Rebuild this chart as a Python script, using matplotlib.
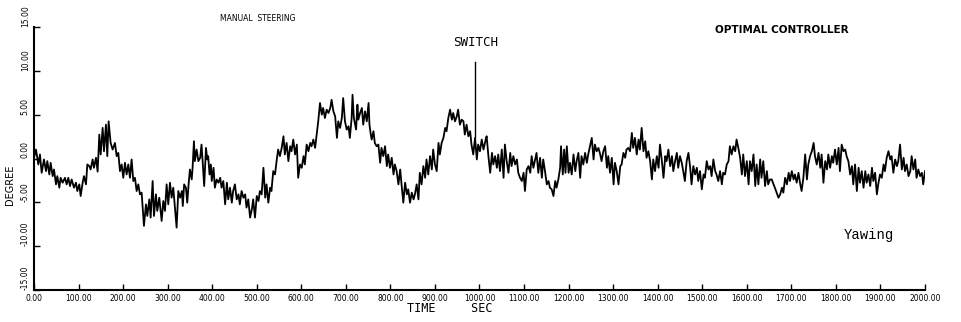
import numpy as np
import matplotlib
matplotlib.use("Agg")
import matplotlib.pyplot as plt

# yaw angle trace, in pieces (time [s], angle [deg])
t_manual_a = [0, 4.5, 9.7, 13.4, 17.2, 22.4, 26.9, 29.9, 34.4, 37.4, 41.9, 44.9, 49.3, 52.3, 56.8,
              59.8, 64.3, 69.5, 73.3, 77, 80.8, 84.5, 89.7, 94.2, 97.2, 101.7, 104.7, 109.2, 112.2,
              116.7, 119.7, 124.1, 127.1, 131.6, 134.6, 139.1, 142.8, 146.6, 149.6, 154.1, 157.1,
              161.5, 164.5, 167.5, 172, 176.5, 181.7, 185.5, 189.2, 193, 196.7, 200.4, 204.2, 207.9,
              211.7, 215.4, 219.1, 222.9, 226.6, 230.4, 234.1, 237.8, 241.6, 246.8, 251.3, 254.3,
              258.8, 261.8, 266.3, 269.3, 273.7, 276.7, 281.2, 286.5, 290.2, 294, 297.7, 301.4,
              305.2, 308.9, 312.6, 320.1, 323.9]
y_manual_a = [0.08, 1.02, -0.68, 0.46, -1.63, -0.11, -1.44, -0.3, -1.82, -0.49, -2.01, -1.25, -2.95,
              -2.01, -3.33, -2.2, -2.76, -2.2, -2.95, -2.2, -3.14, -2.39, -3.33, -2.76, -3.71, -2.95,
              -4.28, -2.76, -2.01, -2.95, -0.68, -0.87, -1.25, -0.11, -1.06, 0.08, -1.5, 2.73, 0.46,
              3.49, 0.83, 3.86, 0.27, 4.24, 1.78, 1.02, 1.78, 0.27, 0.64, -1.44, -0.68, -2.2, -0.49,
              -1.82, -0.68, -2.2, -0.11, -2.57, -2.2, -3.71, -2.95, -4.09, -3.9, -7.69, -5.23, -6.55,
              -4.66, -6.74, -2.57, -6.55, -4.09, -5.98, -4.47, -7.12, -4.85, -5.98, -2.95, -5.23,
              -2.76, -4.47, -3.33, -7.88, -3.71]

t_manual_b = [328, 332, 334, 337, 341, 344, 347, 350, 354, 356, 359, 361, 365, 369, 373, 376, 379,
              382, 386, 389, 391, 394, 397, 399, 403, 406, 410, 414, 418, 421, 425, 429, 433, 436,
              440, 444, 447, 451, 455, 459, 462, 466, 470, 474, 477, 481, 485, 489, 492, 496, 500,
              504, 507, 511, 515, 519, 522, 526, 530, 533, 537, 541, 545, 548, 552, 556, 560, 563,
              567, 571, 575, 578, 582, 586, 590, 593, 597, 601, 605, 608, 612, 616, 620, 623, 627,
              631, 635, 638, 642, 646, 649, 653, 657, 661]
y_manual_b = [-4.47, -3.71, -5.42, -2.95, -3.33, -5.04, -2.95, -1.25, -2.39, -1.06, 1.97, -0.3, 1.02,
              -0.3, 0.08, 1.59, -0.68, -3.14, 1.21, -0.11, 0.27, -1.82, -0.68, -2.57, -1.06, -3.33,
              -2.39, -2.76, -2.2, -3.33, -2.57, -5.23, -2.76, -4.66, -3.33, -5.04, -3.71, -2.95,
              -4.66, -4.09, -5.23, -3.71, -4.47, -4.09, -5.6, -4.66, -6.74, -5.79, -4.66, -6.74,
              -4.28, -4.85, -3.71, -4.09, -1.06, -4.47, -2.95, -5.04, -3.33, -3.71, -1.44, -1.82,
              -0.11, 1.02, 0.27, 1.21, 2.54, 0.46, 1.78, -0.3, 1.4, 0.83, 2.16, 0.46, 1.59, -2.2,
              -0.68, -1.06, 0.27, -0.68, 1.59, 0.83, 1.78, 1.4, 2.16, 1.21, 2.92, 4.24, 6.33, 5.0,
              5.76, 4.62, 5.57, 5.19]

t_manual_c = [665, 668, 672, 676, 680, 683, 687, 691, 694, 698, 702, 706, 709, 713, 715, 718, 723,
              726, 728, 732, 736, 739, 743, 747, 751, 753, 756, 758, 762, 765, 769, 773, 777, 780,
              784, 788, 792, 795, 799, 803, 807, 810, 814, 818, 822, 825, 829, 833, 837, 840, 844,
              848, 852, 855, 859, 863, 866, 870, 874, 878, 881, 885, 889, 893, 896, 900, 904, 908,
              911, 915, 919, 923, 926, 930, 934, 938, 941, 945, 949, 952, 956, 960, 964, 967, 971,
              975, 979, 982, 986, 990, 994, 997]
y_manual_c = [5.76, 6.7, 5.38, 4.81, 2.35, 4.24, 3.49, 4.62, 6.89, 4.24, 3.3, 3.68, 2.35, 4.62, 7.27,
              4.62, 3.3, 6.14, 4.43, 5.19, 5.76, 3.86, 5.38, 4.24, 6.33, 3.86, 2.73, 2.16, 3.11, 1.78,
              1.4, 1.59, -0.49, 1.21, 0.27, 1.4, -0.87, 0.46, -1.06, 0.08, -1.82, -0.68, -1.44,
              -2.95, -1.25, -2.95, -5.04, -2.76, -4.09, -3.52, -5.04, -3.9, -4.66, -4.09, -2.95,
              -4.66, -1.63, -2.95, -0.87, -2.2, -0.11, -1.82, 0.27, -1.25, 1.02, -0.68, -1.44, 1.78,
              0.46, 1.78, 2.35, 3.49, 3.11, 4.62, 5.57, 4.43, 5.19, 4.24, 4.81, 5.57, 3.86, 4.43,
              4.24, 2.73, 3.86, 2.54, 3.11, 1.59, 0.46, 2.35, -0.11, 1.59]

t_opt_a = [1001, 1005, 1009, 1013, 1016, 1020, 1024, 1028, 1031, 1035, 1039, 1042, 1046, 1050, 1054,
           1057, 1061, 1065, 1069, 1072, 1076, 1080, 1084, 1087, 1091, 1095, 1099, 1102, 1106, 1110,
           1114, 1117, 1121, 1125, 1128, 1132, 1136, 1140, 1143, 1147, 1151, 1155, 1158, 1162, 1166,
           1170, 1173, 1177, 1181, 1183, 1187, 1190, 1193, 1196, 1200, 1203, 1207, 1211, 1215, 1218,
           1222, 1226, 1229, 1233, 1237, 1241, 1244, 1248, 1252, 1256, 1259, 1263, 1267, 1271, 1274,
           1278, 1282, 1286, 1289, 1293, 1297, 1301, 1304, 1308, 1312, 1316, 1319, 1323, 1327, 1330,
           1334]
y_opt_a = [0.83, 2.16, 1.02, 1.97, 2.54, 0.27, -1.63, 0.64, -0.68, 0.27, -1.06, 0.46, -1.44, 1.02,
           -2.2, 1.59, -0.3, -1.63, 0.64, -0.87, 0.27, -0.68, -0.11, -1.63, -2.2, -2.57, -1.63, -3.71,
           -1.25, -0.87, -1.63, 0.27, -1.06, -0.11, 0.64, -1.63, 0.08, -2.2, -0.11, -1.44, -2.95,
           -2.57, -3.33, -3.52, -4.28, -2.57, -3.33, -2.39, -1.06, 1.4, -1.82, 1.02, -1.63, 1.4,
           -1.63, -0.49, -1.82, 0.46, -1.44, -0.3, 0.64, -2.2, 0.27, -0.68, 0.64, -0.49, 0.46, 1.4,
           2.35, -0.11, 1.59, 0.83, 1.21, 0.46, -0.3, 0.83, 1.4, -1.06, 0.27, -1.63, 0.08, -2.95,
           -0.49, -1.44, -2.95, -0.87, -0.68, 0.64, 0.08, 1.02, 1.21]

t_opt_b = [1338, 1342, 1345, 1349, 1353, 1357, 1360, 1364, 1368, 1372, 1375, 1379, 1383, 1387, 1390,
           1394, 1398, 1402, 1405, 1409, 1413, 1417, 1420, 1424, 1428, 1432, 1435, 1439, 1443, 1446,
           1450, 1454, 1458, 1461, 1465, 1469, 1473, 1476, 1480, 1484, 1488, 1491, 1495, 1499, 1503,
           1506, 1510, 1514, 1518, 1521, 1525, 1529, 1532, 1536, 1540, 1544, 1547, 1551, 1555, 1559,
           1562, 1566, 1570, 1574, 1577, 1581, 1585, 1589, 1592, 1596, 1600, 1604, 1607, 1611, 1615,
           1619, 1622, 1626, 1630, 1633, 1637, 1641, 1645, 1648, 1652, 1656, 1660, 1663, 1667, 1671]
y_opt_b = [0.83, 2.92, 1.21, 2.35, 0.46, 2.16, 1.02, 3.49, 0.83, 1.97, 0.08, 0.83, -0.3, -2.39, -0.11,
           -1.44, 0.27, -1.06, 1.59, -0.11, -2.2, 0.27, -0.3, 1.02, -0.87, 0.27, -1.44, -0.3, 0.64,
           -1.06, 0.27, -0.49, -1.63, -2.57, -0.3, 0.64, -1.06, -2.95, -0.87, -1.82, -1.06, -2.57,
           -1.44, -3.52, -1.82, -2.2, -0.3, -1.25, -0.87, -2.01, -0.11, -1.44, -1.82, -2.57, -1.44,
           -2.95, -1.63, -1.82, -0.68, -0.3, 1.4, 0.46, 1.4, 0.83, 2.16, 1.21, 0.08, -1.82, 0.46,
           -2.01, -0.3, -2.95, -0.3, -1.44, 0.46, -3.14, -0.68, -2.95, -0.11, -2.2, -0.3, -3.14,
           -1.44, -2.95, -2.39, -2.39, -2.95, -3.33, -3.9, -4.47]

t_opt_c = [1675, 1679, 1682, 1686, 1690, 1694, 1697, 1701, 1705, 1708, 1712, 1716, 1720, 1723, 1727,
           1731, 1735, 1738, 1742, 1746, 1750, 1753, 1757, 1761, 1765, 1768, 1772, 1776, 1780, 1783,
           1787, 1791, 1794, 1798, 1802, 1806, 1809, 1813, 1817, 1821, 1824, 1828, 1832, 1836, 1839,
           1843, 1847, 1851, 1854, 1858, 1862, 1866, 1869, 1873, 1877, 1881, 1884, 1888, 1892, 1895,
           1899, 1903, 1907, 1910, 1914, 1918, 1922, 1925, 1929, 1933, 1937, 1940, 1944, 1948, 1952,
           1955, 1959, 1963, 1967, 1970, 1974, 1978, 1981, 1985, 1989, 1993, 1996, 2000]
y_opt_c = [-4.09, -3.33, -3.9, -2.2, -2.95, -1.63, -2.57, -1.44, -2.39, -1.82, -2.76, -1.63, -2.95,
           -3.71, -2.2, 0.46, -2.39, -0.68, 0.27, 0.83, 1.78, 0.27, -0.68, 0.64, -1.06, 0.46, -2.76,
           -0.3, -1.25, 0.46, -1.06, 0.27, -0.49, 1.02, -0.68, 1.21, -1.44, 1.59, 0.83, 1.02, 0.27,
           -0.3, -1.82, -0.87, -2.95, -0.68, -3.71, -1.06, -2.76, -1.44, -3.33, -1.44, -2.76, -1.82,
           -3.14, -1.06, -2.57, -1.63, -4.09, -2.95, -1.82, -2.2, -0.68, -1.44, 0.08, 0.83, -0.11,
           0.27, -1.63, -0.11, -0.87, -0.3, 1.59, -1.25, 0.08, -1.44, -0.68, -2.01, -1.44, 0.27,
           -1.25, -0.11, -2.2, -1.25, -2.01, -1.63, -2.95, -1.44]

x_ticks = list(range(0, 2001, 100))
y_ticks = [-15, -10, -5, 0, 5, 10, 15]
switch_time = 990
switch_span = [2.4, 11.0]

t = np.concatenate([t_manual_a, t_manual_b, t_manual_c, t_opt_a, t_opt_b, t_opt_c])
y = np.concatenate([y_manual_a, y_manual_b, y_manual_c, y_opt_a, y_opt_b, y_opt_c])

fig = plt.figure(figsize=(9.62, 3.22), dpi=100)
ax = fig.add_axes([34 / 962, 32 / 322, 891 / 962, 263 / 322])

ax.plot(t, y, color='black', lw=1.3)
ax.plot([switch_time, switch_time], switch_span, color='black', lw=1.0)

ax.set_xlim(0, 2000)
ax.set_ylim(-15, 15)
ax.set_xticks(x_ticks)
ax.set_xticklabels([f'{v:.2f}' for v in x_ticks])
ax.set_yticks(y_ticks)
# labels sit a little above their ticks in the original
ax.set_yticklabels([f'{v:.2f}' for v in y_ticks], rotation=90, va='bottom')

for side in ['top', 'right']:
    ax.spines[side].set_visible(False)
for side in ['left', 'bottom']:
    ax.spines[side].set_linewidth(1.5)

ax.tick_params(axis='x', direction='in', length=4, width=1, labelsize=5.5, pad=3)
ax.tick_params(axis='y', direction='in', length=4, width=1, labelsize=5.5, pad=3)

# annotations
ax.text(503, 16.0, 'MANUAL  STEERING', fontsize=5.5, ha='center', va='center', clip_on=False)
ax.text(1679, 14.66, 'OPTIMAL CONTROLLER', fontsize=7.5, fontweight='bold', ha='center',
        va='center', clip_on=False)
ax.text(992, 13.2, 'SWITCH', fontsize=9, ha='center', va='center', family='DejaVu Sans Mono')
ax.text(1875, -8.75, 'Yawing', fontsize=10, ha='center', va='center', family='Liberation Mono')

fig.text(450 / 962, 1 - 309 / 322, 'TIME     SEC', fontsize=8.5, ha='center', va='center',
         family='DejaVu Sans Mono')
fig.text(10 / 962, 1 - 185 / 322, 'DEGREE', fontsize=7, rotation=90, ha='center', va='center')

fig.savefig('out.png', dpi=100)
